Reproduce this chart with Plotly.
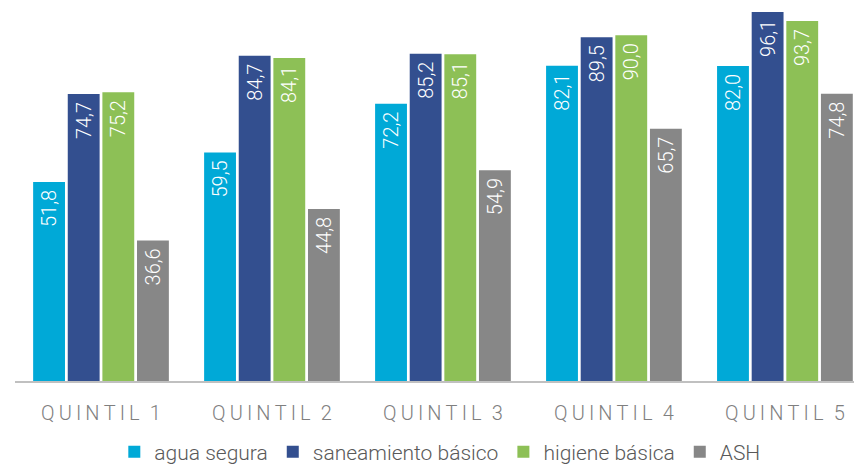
import plotly.graph_objects as go

categories = ["QUINTIL 1", "QUINTIL 2", "QUINTIL 3", "QUINTIL 4", "QUINTIL 5"]
tick_labels = ["Q\u2009U\u2009I\u2009N\u2009T\u2009I\u2009L\u2002" + c[-1] for c in categories]

agua_segura = [51.8, 59.5, 72.2, 82.1, 82.0]
saneamiento_basico = [74.7, 84.7, 85.2, 89.5, 96.1]
higiene_basica = [75.2, 84.1, 85.1, 90.0, 93.7]
ash = [36.6, 44.8, 54.9, 65.7, 74.8]

series = [
    ("agua segura", agua_segura, "#00A9D7"),
    ("saneamiento básico", saneamiento_basico, "#334F8F"),
    ("higiene básica", higiene_basica, "#8DC056"),
    ("ASH", ash, "#878787"),
]

fig = go.Figure()
for name, values, color in series:
    fig.add_trace(go.Bar(
        x=list(range(len(categories))),
        y=values,
        name=name,
        marker=dict(color=color, line=dict(width=0)),
        texttemplate='%{y:.1f}\u00a0',
        textposition='inside',
        insidetextanchor='end',
        textangle=-90,
        textfont=dict(color='white', size=20, family='Roboto', weight=300),
    ))

fig.update_layout(
    width=854, height=465,
    barmode='group',
    bargap=0.19,
    bargroupgap=0.08,
    separators=',.',
    plot_bgcolor='white',
    paper_bgcolor='white',
    margin=dict(l=15, r=0, t=0, b=84, autoexpand=False),
    font=dict(family='Roboto'),
    showlegend=True,
    legend=dict(
        orientation='h',
        xref='container', yref='container',
        x=0.515, xanchor='center',
        y=0.028, yanchor='middle',
        font=dict(size=21, color='#595959', family='Roboto', weight=300),
        itemwidth=30,
        tracegroupgap=0,
    ),
)

fig.update_xaxes(
    tickmode='array',
    tickvals=list(range(len(categories))),
    ticktext=tick_labels,
    range=[-0.503, 4.404],
    showline=True, linecolor='#C0C0C0', linewidth=2,
    ticks='', showgrid=False, zeroline=False,
    automargin=False,
    tickfont=dict(size=20, color='#7F7F7F', family='Roboto', weight=300),
    ticklabelstandoff=13,
)
fig.update_yaxes(
    range=[0, 99.2],
    visible=False,
    showgrid=False, zeroline=False,
)

fig.write_html("out.html", config={'displayModeBar': False},
               post_script="document.body.style.margin='0';")
